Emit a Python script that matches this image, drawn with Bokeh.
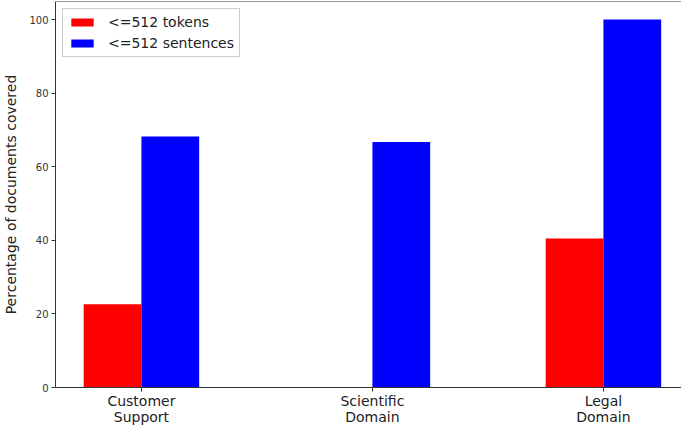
from bokeh.plotting import figure
from bokeh.models import Range1d, FixedTicker, Legend, LegendItem, ColumnDataSource, Span
from bokeh.embed import file_html
from bokeh.resources import INLINE

categories = ["Customer\nSupport", "Scientific\nDomain", "Legal\nDomain"]
tokens = [22.6, 0.0, 40.5]
sentences = [68.2, 66.7, 100.0]
y_ticks = [0, 20, 40, 60, 80, 100]

xs = list(range(len(categories)))
bw = 0.25
y_max = 104.9

p = figure(frame_width=626, frame_height=386, output_backend="svg", toolbar_location=None,
           x_range=Range1d(-0.372, 2.338), y_range=Range1d(0, y_max),
           min_border_top=1, min_border_left=0, min_border_right=0, min_border_bottom=0)
p.outline_line_color = None
p.xgrid.visible = False
p.ygrid.visible = False
p.background_fill_color = "white"

src_t = ColumnDataSource(dict(x=[x - bw / 2 for x in xs], top=tokens))
src_s = ColumnDataSource(dict(x=[x + bw / 2 for x in xs], top=sentences))
r1 = p.vbar(x="x", top="top", width=bw, source=src_t, fill_color="#ff0000", line_color=None)
r2 = p.vbar(x="x", top="top", width=bw, source=src_s, fill_color="#0000ff", line_color=None)

font = "DejaVu Sans"
p.xaxis.axis_label = None
p.xaxis.ticker = FixedTicker(ticks=xs)
p.xaxis.major_label_overrides = {i: c for i, c in enumerate(categories)}
p.xaxis.major_label_text_font = font
p.xaxis.major_label_text_font_size = "14px"
p.xaxis.major_label_text_line_height = 1.0
p.xaxis.major_label_text_color = "#222222"
p.xaxis.minor_tick_line_color = None
p.xaxis.major_tick_in = 0
p.xaxis.major_tick_out = 4
p.xaxis.major_label_standoff = 1
p.xaxis.axis_line_color = "#333333"
p.xaxis.major_tick_line_color = "#333333"

p.yaxis.ticker = FixedTicker(ticks=y_ticks)
p.yaxis.major_label_text_font = font
p.yaxis.major_label_text_font_size = "10px"
p.yaxis.major_label_text_color = "#333333"
p.yaxis.minor_tick_line_color = None
p.yaxis.major_tick_in = 0
p.yaxis.major_tick_out = 4
p.yaxis.major_label_standoff = 3
p.yaxis.axis_line_color = "#333333"
p.yaxis.major_tick_line_color = "#333333"
p.yaxis.axis_label = "Percentage of documents covered"
p.yaxis.axis_label_text_font = font
p.yaxis.axis_label_text_font_size = "14px"
p.yaxis.axis_label_text_font_style = "normal"
p.yaxis.axis_label_text_color = "#222222"
p.yaxis.axis_label_standoff = 7

top_spine = Span(location=y_max, dimension="width", line_color="#333333", line_width=1)
p.add_layout(top_spine)

legend = Legend(items=[LegendItem(label="<=512 tokens", renderers=[r1]),
                       LegendItem(label="<=512 sentences", renderers=[r2])],
                location="top_left")
legend.label_text_font = font
legend.label_text_font_size = "14px"
legend.label_text_color = "#222222"
legend.label_standoff = 12
legend.label_height = 16
legend.glyph_width = 28
legend.glyph_height = 10
legend.spacing = 5
legend.padding = 5
legend.margin = 7
legend.border_line_color = "#cccccc"
legend.border_line_alpha = 1
legend.background_fill_alpha = 0.85
p.add_layout(legend)

open("out.html", "w").write(file_html(p, INLINE))
